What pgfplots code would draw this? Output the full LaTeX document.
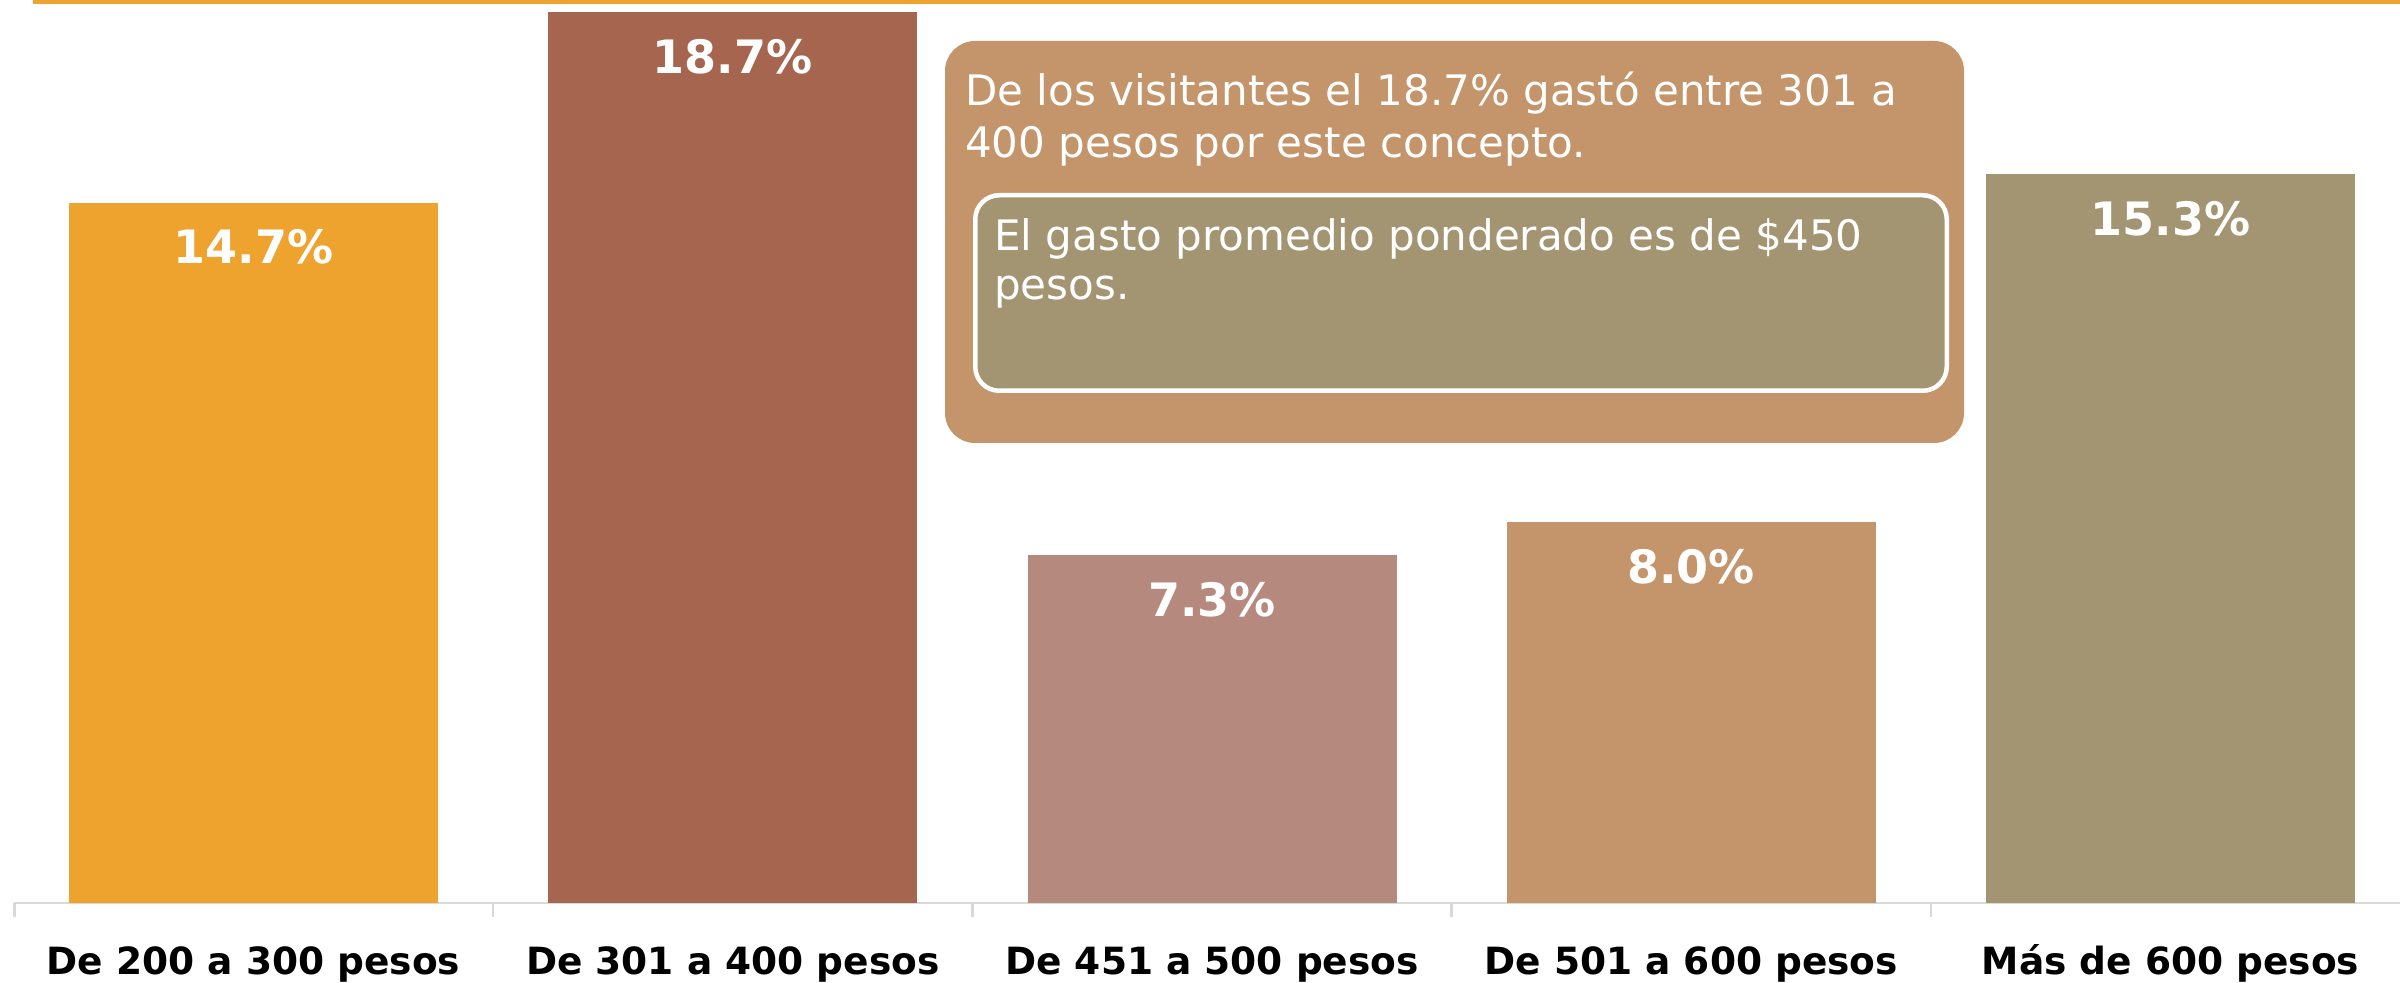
\documentclass[border=0pt]{standalone}
\usepackage{pgfplots}
\pgfplotsset{compat=1.18}
\usepackage{fontspec}
\setmainfont{DejaVu Sans}
\definecolor{cOrange}{HTML}{EFA32F}
\definecolor{cBrown}{HTML}{A5654F}
\definecolor{cRose}{HTML}{B5897D}
\definecolor{cTan}{HTML}{C4956A}
\definecolor{cOlive}{HTML}{A39472}
\definecolor{cAxis}{HTML}{D9D9D9}
\begin{document}
\begin{tikzpicture}
\useasboundingbox (0,0) rectangle (2400bp,983bp);
\fill[cOrange] (33bp,978.5bp) rectangle (2400bp,983bp);
\begin{axis}[
  anchor=origin, at={(253.5bp,80bp)},
  x=479.25bp, y=47.62bp,
  xmin=-0.5, xmax=4.48, ymin=0, ymax=18.9,
  axis x line*=bottom, axis y line=none,
  x axis line style={draw=cAxis, line width=2.5bp},
  xtick={0,1,2,3,4},
  xticklabels={De 200 a 300 pesos, De 301 a 400 pesos, De 451 a 500 pesos, De 501 a 600 pesos, Más de 600 pesos},
  major tick length=0pt,
  minor xtick={-0.4985,0.5,1.5,2.5,3.5},
  minor tick length=14bp,
  tick align=outside,
  minor tick style={draw=cAxis, line width=2.5bp},
  xticklabel style={font=\fontsize{37.5bp}{44bp}\selectfont\bfseries, text=black, anchor=base, yshift=-71bp},
  ybar, bar width=369bp,
  clip=false,
  nodes near coords={\pgfmathprintnumber[fixed, fixed zerofill, precision=1, assume math mode=true]{\pgfplotspointmeta}\%},
  nodes near coords style={font=\fontsize{46bp}{55bp}\selectfont\bfseries, text=white, anchor=base, yshift=-61bp, inner sep=0pt},
]
\addplot[fill=cOrange, draw=none, bar shift=0pt] coordinates {(0,14.7)};
\addplot[fill=cBrown, draw=none, bar shift=0pt] coordinates {(1,18.7)};
\addplot[fill=cRose, draw=none, bar shift=0pt] coordinates {(2,7.3)};
\addplot[fill=cTan, draw=none, bar shift=0pt] coordinates {(3,8.0)};
\addplot[fill=cOlive, draw=none, bar shift=0pt] coordinates {(4,15.3)};
\end{axis}
\fill[cTan, rounded corners=30bp] (945bp,540bp) rectangle (1964bp,942bp);
\filldraw[fill=cOlive, draw=white, line width=4.5bp, rounded corners=24bp] (975.25bp,592.25bp) rectangle (1946.75bp,787.75bp);
\begin{scope}[every node/.style={inner sep=0pt, anchor=base west, text=white, font=\fontsize{42bp}{52bp}\selectfont}]
\node at (965bp,877bp) {De los visitantes el 18.7\% gastó entre 301 a};
\node at (965bp,825bp) {400 pesos por este concepto.};
\node at (994bp,732bp) {El gasto promedio ponderado es de \$450};
\node at (994bp,683bp) {pesos.};
\end{scope}
\end{tikzpicture}
\end{document}
